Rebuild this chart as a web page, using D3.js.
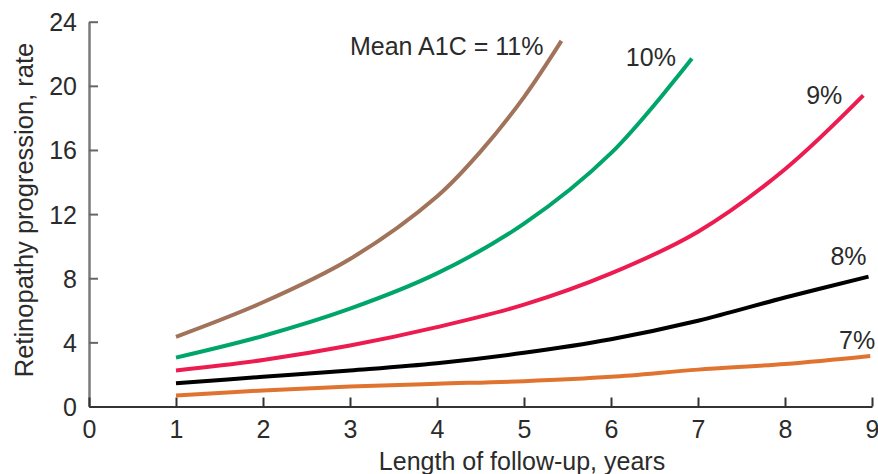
<!DOCTYPE html>
<html>
<head>
<meta charset="utf-8">
<script src="https://cdn.jsdelivr.net/npm/d3@7"></script>
<style>
  body { margin: 0; background: #fff; }
  text { font-family: "Liberation Sans", Arial, sans-serif; fill: #2b2b2b; }
</style>
</head>
<body>
<div id="chart"></div>
<script>
// data
const xTicks = [0, 1, 2, 3, 4, 5, 6, 7, 8, 9];
const yTicks = [0, 4, 8, 12, 16, 20, 24];

const a1c11 = [[1, 4.35], [2, 6.5], [3, 9.2], [4, 13.1], [4.5, 15.9], [5, 19.3], [5.43, 22.8]];
const a1c10 = [[1, 3.05], [2, 4.4], [3, 6.1], [4, 8.3], [5, 11.4], [6, 15.8], [6.93, 21.7]];
const a1c9 = [[1, 2.25], [2, 2.9], [3, 3.8], [4, 4.95], [5, 6.35], [6, 8.3], [7, 10.9], [8, 14.8], [8.9, 19.4]];
const a1c8 = [[1, 1.45], [2, 1.85], [3, 2.25], [4, 2.7], [5, 3.35], [6, 4.2], [7, 5.35], [8, 6.8], [8.96, 8.1]];
const a1c7 = [[1, 0.68], [2, 1.0], [3, 1.25], [4, 1.42], [5, 1.58], [6, 1.85], [7, 2.3], [8, 2.65], [8.98, 3.15]];

const seriesColors = ["#a0735a", "#00a56a", "#ec1b50", "#000000", "#e0732f"];
const seriesLabels = ["Mean A1C = 11%", "10%", "9%", "8%", "7%"];

let vis = {};
vis.width = 878;
vis.height = 474;

vis.svg = d3.select("#chart").append("svg")
    .attr("width", vis.width)
    .attr("height", vis.height);

// scales
vis.x = d3.scaleLinear().domain([0, 9]).range([89, 872]);
vis.y = d3.scaleLinear().domain([0, 24]).range([406.5, 21.7]);

// y axis
vis.yAxis = d3.axisLeft(vis.y)
    .tickValues(yTicks)
    .tickSizeInner(-9)
    .tickSizeOuter(0)
    .tickPadding(12);

vis.yAxisGroup = vis.svg.append("g")
    .attr("class", "y-axis")
    .attr("transform", "translate(" + vis.x(0) + ",0)")
    .call(vis.yAxis);

vis.yAxisGroup.select(".domain").attr("stroke", "#7a7a7a").attr("stroke-width", 2.5);
vis.yAxisGroup.selectAll(".tick line").attr("stroke", "#666").attr("stroke-width", 2);
vis.yAxisGroup.selectAll(".tick text")
    .attr("font-size", "25px")
    .attr("font-family", "Liberation Sans, Arial, sans-serif")
    .style("fill", "#2b2b2b")
    .attr("dy", "0.36em");

// x axis
vis.xAxis = d3.axisBottom(vis.x)
    .tickValues(xTicks)
    .tickSizeInner(-9)
    .tickSizeOuter(0)
    .tickPadding(14);

vis.xAxisGroup = vis.svg.append("g")
    .attr("class", "x-axis")
    .attr("transform", "translate(0," + vis.y(0) + ")")
    .call(vis.xAxis);

vis.xAxisGroup.select(".domain").attr("stroke", "#333").attr("stroke-width", 2);
vis.xAxisGroup.selectAll(".tick line").attr("stroke", "#333").attr("stroke-width", 2);
vis.xAxisGroup.selectAll(".tick text")
    .attr("font-size", "25px")
    .attr("font-family", "Liberation Sans, Arial, sans-serif")
    .style("fill", "#2b2b2b");

// axis titles
vis.svg.append("text")
    .attr("x", 522)
    .attr("y", 470)
    .attr("text-anchor", "middle")
    .attr("font-size", "25px")
    .text("Length of follow-up, years");

vis.svg.append("text")
    .attr("transform", "translate(33,210) rotate(-90)")
    .attr("text-anchor", "middle")
    .attr("font-size", "25.5px")
    .text("Retinopathy progression, rate");

// curves
vis.line = d3.line()
    .x(d => vis.x(d[0]))
    .y(d => vis.y(d[1]))
    .curve(d3.curveCatmullRom.alpha(0.5));

const allSeries = [a1c11, a1c10, a1c9, a1c8, a1c7];

vis.svg.selectAll(".curve")
    .data(allSeries)
    .enter()
    .append("path")
    .attr("class", "curve")
    .attr("d", d => vis.line(d))
    .attr("fill", "none")
    .attr("stroke", (d, i) => seriesColors[i])
    .attr("stroke-width", 4);

// curve labels, anchored at their line ends
const labelOffsets = [[-18, 14], [-16, 7], [-21, 9], [-2, -12], [5, -7]];

vis.svg.selectAll(".curve-label")
    .data(allSeries)
    .enter()
    .append("text")
    .attr("class", "curve-label")
    .attr("x", (d, i) => vis.x(d[d.length - 1][0]) + labelOffsets[i][0])
    .attr("y", (d, i) => vis.y(d[d.length - 1][1]) + labelOffsets[i][1])
    .attr("text-anchor", "end")
    .attr("font-size", "25px")
    .text((d, i) => seriesLabels[i]);
</script>
</body>
</html>
